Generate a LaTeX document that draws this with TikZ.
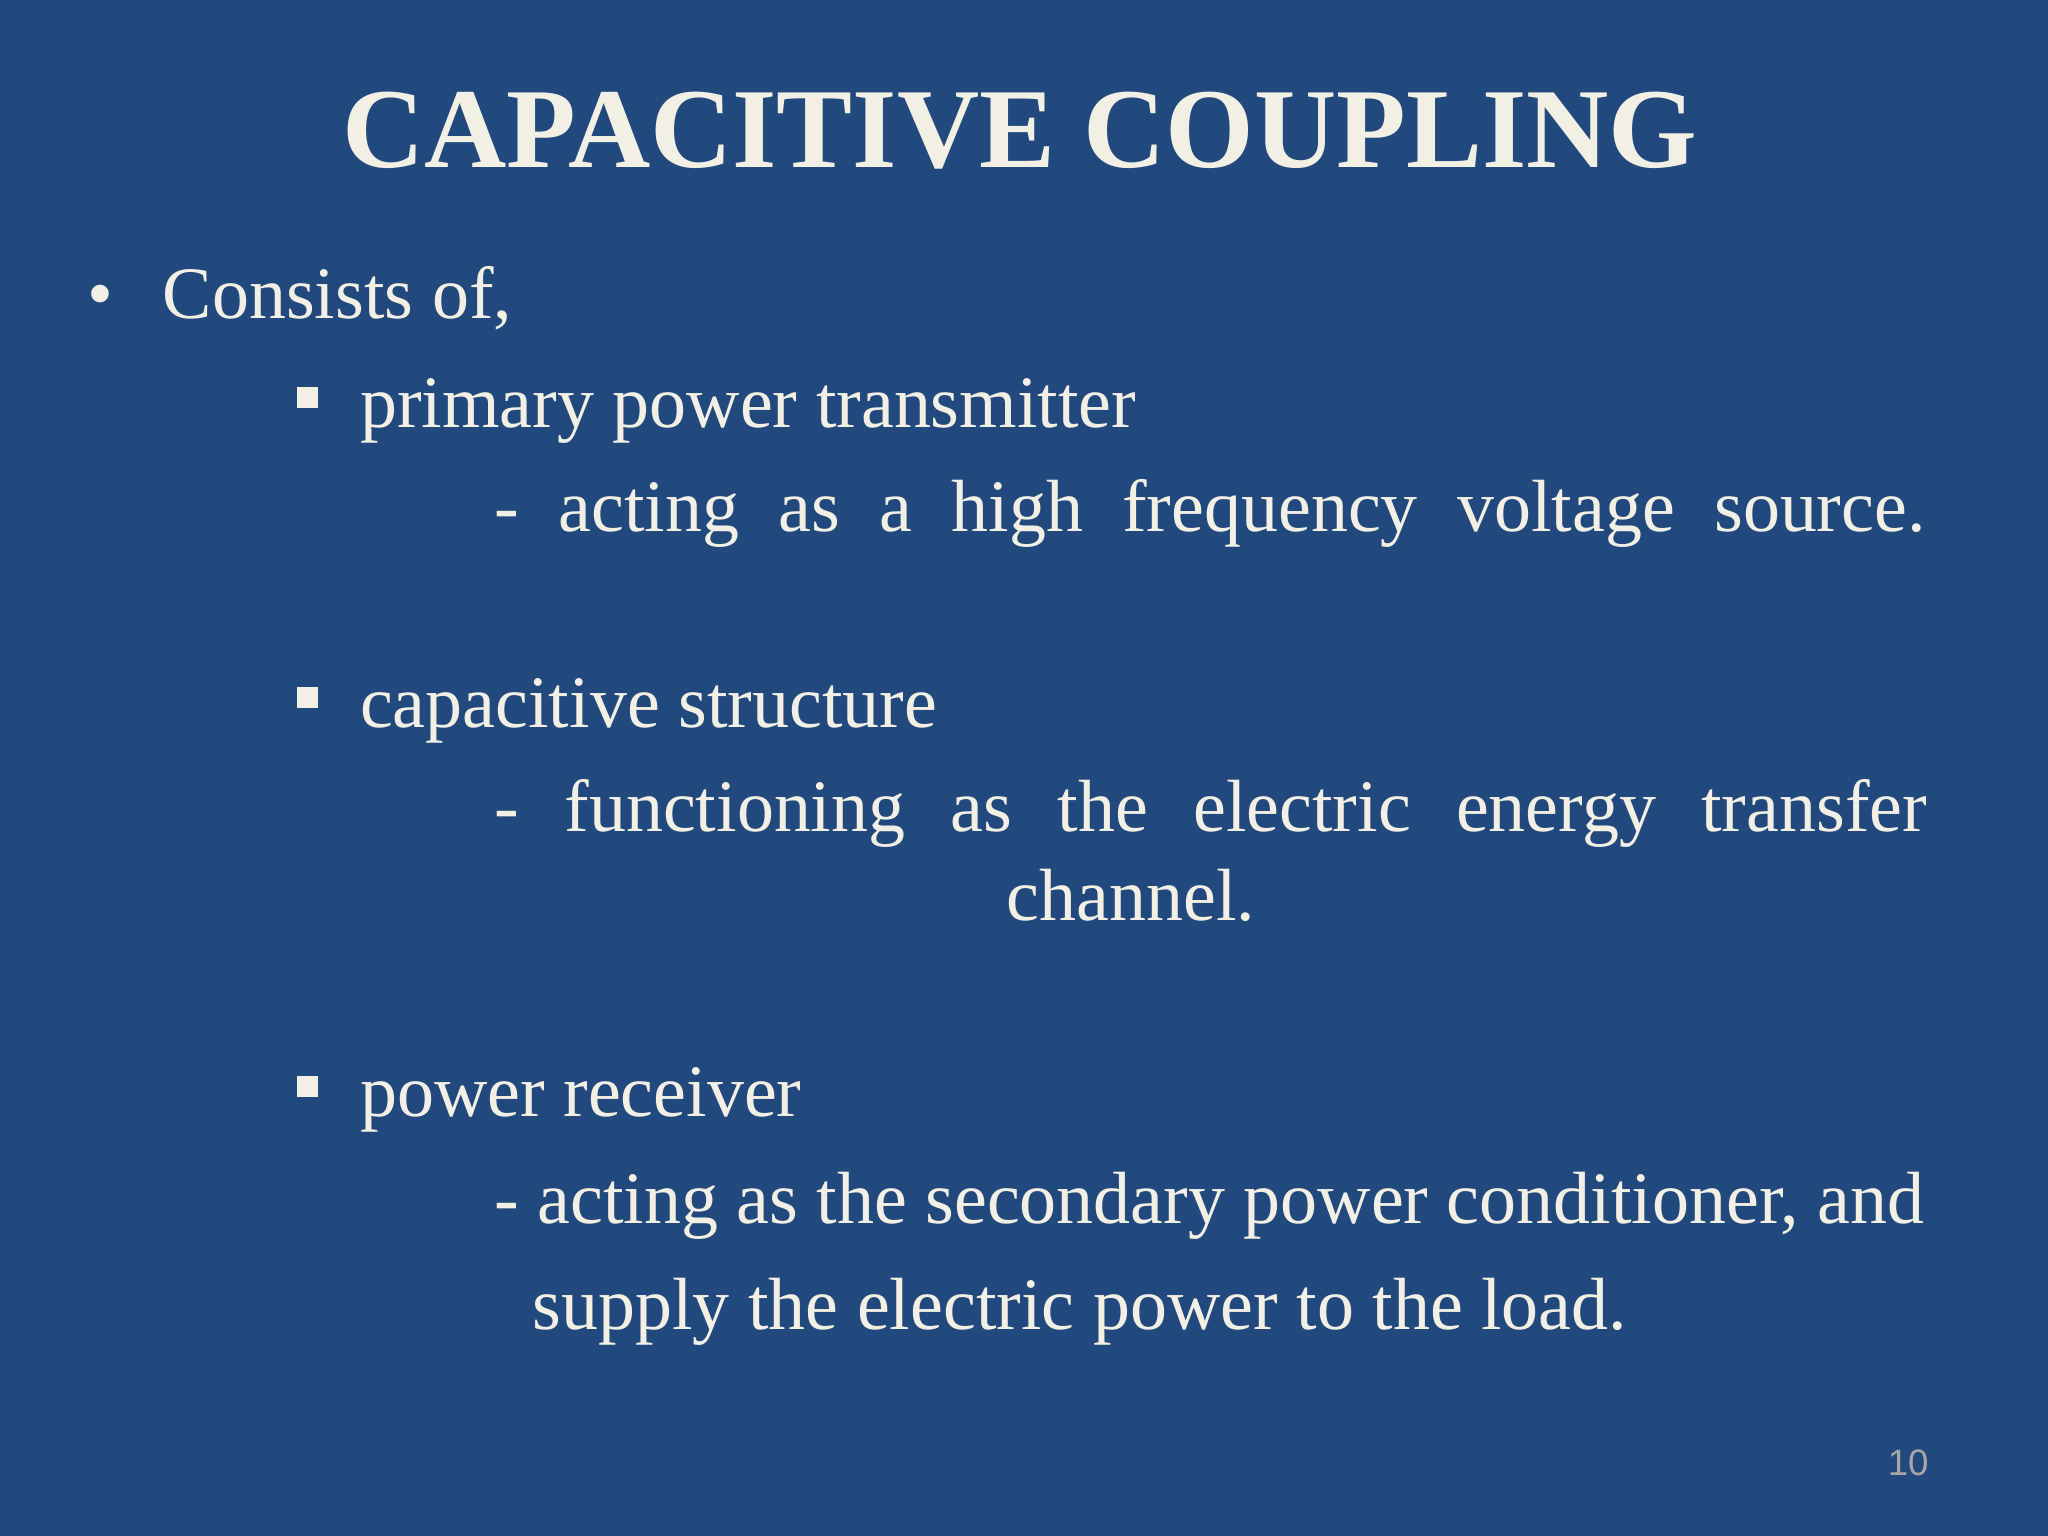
\documentclass[tikz,border=0pt]{standalone}
\usepackage{fontspec}
\setmainfont{Liberation Serif}
\newfontfamily\numfont{Liberation Sans}
\definecolor{bg}{HTML}{22497D}
\definecolor{fg}{HTML}{F2EFE4}
\begin{document}
\begin{tikzpicture}[x=0.01cm,y=-0.01cm,
  body/.style={text=fg,inner sep=0pt,anchor=base west,font=\fontsize{16.1}{19}\selectfont}]
\fill[bg] (0,0) rectangle (1568,1176);
\useasboundingbox (0,0) rectangle (1568,1176);
\node[text=fg,inner sep=0pt,anchor=base,font=\fontsize{24.8}{28}\selectfont\bfseries] (title) at (781,128) {CAPACITIVE COUPLING};
\node[body] (b0) at (66,244) {•};
\node[body] (t0) at (124,244) {Consists of,};
\node[body] (s1) at (227,312) {\rule{1.6mm}{1.6mm}};
\node[body] (t1) at (275,327) {primary power transmitter};
\node[body] (d1) at (378,407) {\makebox[10.95cm][s]{- acting as a high frequency voltage source.}};
\node[body] (s2) at (227,542) {\rule{1.6mm}{1.6mm}};
\node[body] (t2) at (275,557) {capacitive structure};
\node[body] (d2) at (378,637) {\makebox[10.96cm][s]{- functioning as the electric energy transfer}};
\node[body,anchor=base] (d2b) at (866,705) {channel.};
\node[body] (s3) at (227,840) {\rule{1.6mm}{1.6mm}};
\node[body] (t3) at (275,855) {power receiver};
\node[body] (d3) at (378,937) {\makebox[10.94cm][s]{- acting as the secondary power conditioner, and}};
\node[body] (d3b) at (407,1018) {supply the electric power to the load.};
\node[text=gray!70,inner sep=0pt,anchor=base,font=\numfont\fontsize{8}{10}\selectfont] (pg) at (1461,1130) {10};
\end{tikzpicture}
\end{document}
